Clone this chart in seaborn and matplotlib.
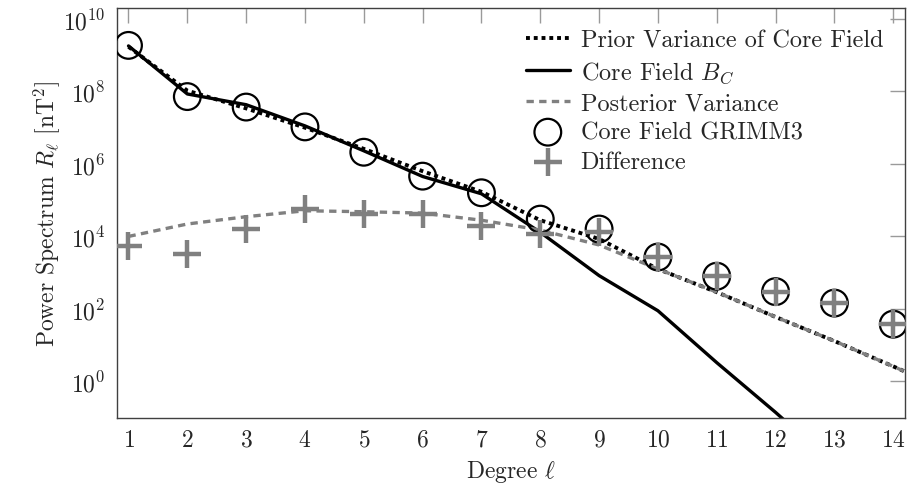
import numpy as np
import pandas as pd
import matplotlib
matplotlib.use("Agg")
import matplotlib.pyplot as plt
import matplotlib.ticker as mticker
import seaborn as sns

degrees = [1, 2, 3, 4, 5, 6, 7, 8, 9, 10, 11, 12, 13, 14, 15]
prior_variance = [1.7e9, 1.05e8, 3.4e7, 1.0e7, 2.6e6, 6.3e5, 1.7e5, 2.8e4, 8.5e3, 1.26e3, 2.9e2, 6.0e1, 1.3e1, 2.6, 0.5]
core_field = [1.8e9, 8.5e7, 4.3e7, 1.12e7, 2.3e6, 4.5e5, 1.5e5, 1.3e4, 8.3e2, 8.9e1, 3.3, 1.4e-1, 5e-3, 1.5e-4, 5e-6]
posterior_variance = [1.0e4, 2.2e4, 3.5e4, 5.1e4, 4.8e4, 4.4e4, 2.8e4, 1.5e4, 5.8e3, 1.26e3, 2.9e2, 6.0e1, 1.3e1, 2.6, 0.5]
grimm3 = [1.86e9, 7.2e7, 3.7e7, 1.05e7, 2.1e6, 4.6e5, 1.6e5, 3.0e4, 1.6e4, 2.7e3, 8.0e2, 3.0e2, 1.45e2, 3.8e1, np.nan]
difference = [5.6e3, 3.3e3, 1.6e4, 5.7e4, 4.2e4, 4.2e4, 2.0e4, 1.15e4, 1.3e4, 2.7e3, 8.0e2, 3.0e2, 1.45e2, 3.8e1, np.nan]
xtick_degrees = [1, 2, 3, 4, 5, 6, 7, 8, 9, 10, 11, 12, 13, 14]

labels = ["Prior Variance of Core Field", r"Core Field $B_C$", "Posterior Variance",
          "Core Field GRIMM3", "Difference"]

df = pd.DataFrame({"degree": degrees, "prior": prior_variance, "core": core_field,
                   "post": posterior_variance, "grimm": grimm3, "diff": difference})

sns.set_style("white")
plt.rcParams["font.family"] = ["cmr10", "DejaVu Serif"]
plt.rcParams["mathtext.fontset"] = "cm"
plt.rcParams["axes.formatter.use_mathtext"] = True
plt.rcParams["axes.unicode_minus"] = False

FS = 17

fig = plt.figure(figsize=(9.07, 4.89), dpi=100)
ax = fig.add_axes([0.1287, 0.1438, 0.9978 - 0.1287, 0.9816 - 0.1438])

gray = "#808080"
sns.lineplot(data=df, x="degree", y="prior", ax=ax, color="black", linewidth=2.8,
             linestyle=(0, (1.0, 1.0)), label=labels[0])
sns.lineplot(data=df, x="degree", y="core", ax=ax, color="black", linewidth=2.4,
             label=labels[1])
sns.lineplot(data=df, x="degree", y="post", ax=ax, color=gray, linewidth=2.4,
             linestyle=(0, (2.2, 1.6)), label=labels[2])
sns.scatterplot(data=df.dropna(), x="degree", y="grimm", ax=ax, marker="o", s=370,
                facecolor="none", edgecolor="black", linewidth=1.6, label=labels[3], zorder=3)
sns.scatterplot(data=df.dropna(), x="degree", y="diff", ax=ax, marker="+", s=420,
                color=gray, linewidth=3.2, label=labels[4], zorder=4)

ax.set_yscale("log")
ax.set_xlim(0.8, 14.2)
ax.set_ylim(0.1, 2.0e10)
ax.set_xticks(xtick_degrees)
ax.yaxis.set_major_locator(mticker.FixedLocator([1e0, 1e2, 1e4, 1e6, 1e8, 1e10]))
ax.yaxis.set_minor_locator(mticker.NullLocator())
ax.yaxis.set_major_formatter(mticker.LogFormatterMathtext())
ax.tick_params(axis="both", which="major", direction="in", length=11, width=1,
               color="#9a9a9a", labelsize=FS, top=True, right=True, pad=8)
for sp in ax.spines.values():
    sp.set_color("#404040")
    sp.set_linewidth(1.0)

ax.set_xlabel(r"Degree $\ell$", fontsize=FS, labelpad=5)
ax.set_ylabel(r"Power Spectrum $R_\ell$ [nT$^2$]", fontsize=FS, labelpad=1)

leg = ax.legend(loc="upper right", frameon=False, fontsize=17.5, handlelength=1.8,
                handletextpad=0.45, labelspacing=0.3, borderaxespad=0.5,
                markerscale=1.0)
fig.savefig("out.png", dpi=100)
